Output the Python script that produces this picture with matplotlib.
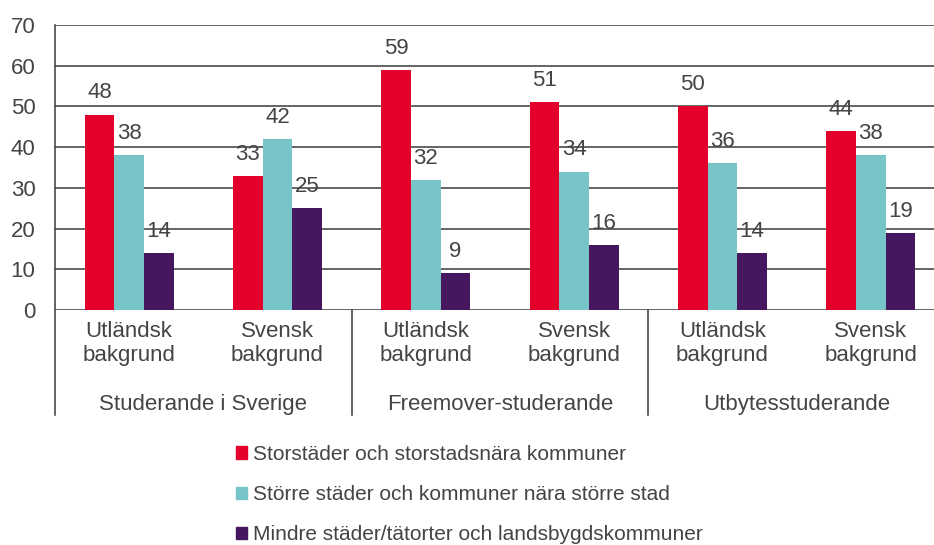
import numpy as np
import matplotlib.pyplot as plt
from matplotlib.patches import Patch

plt.rcParams['font.family'] = ['Liberation Sans', 'DejaVu Sans']

# data
categories = ["Utländsk\nbakgrund", "Svensk\nbakgrund"] * 3
groups = ["Studerande i Sverige", "Freemover-studerande", "Utbytesstuderande"]
series_names = ["Storstäder och storstadsnära kommuner",
                "Större städer och kommuner nära större stad",
                "Mindre städer/tätorter och landsbygdskommuner"]
storstad = [48, 33, 59, 51, 50, 44]
storre = [38, 42, 32, 34, 36, 38]
mindre = [14, 25, 9, 16, 14, 19]

colors = ['#E3002B', '#77C5C9', '#46175E']
txt = '#444444'
linec = '#3a3a3a'
fs = 16

fig = plt.figure(figsize=(9.34, 5.45), dpi=100)
ax = fig.add_axes([55/934, 1-310/545, 890/934, 285/545])

x = np.arange(len(categories))
w = 0.2
series = [storstad, storre, mindre]
for i, vals in enumerate(series):
    bars = ax.bar(x + (i-1)*w, vals, w, color=colors[i], zorder=3)
    for b, v in zip(bars, vals):
        ax.annotate(str(v), (b.get_x()+b.get_width()/2, v), xytext=(0, 8),
                    textcoords='offset points', ha='center', va='bottom',
                    fontsize=fs, color=txt)

ax.set_xlim(-0.5, 5.5)
ax.set_ylim(0, 70)
for s in ax.spines.values():
    s.set_visible(False)
for yv in range(0, 71, 10):
    ax.axhline(yv, color=linec, lw=1.1, zorder=1)
ax.set_yticks(range(0, 71, 10))
ax.tick_params(axis='y', length=0, pad=14, labelsize=fs, labelcolor=txt)
ax.set_xticks([])

tr = ax.get_xaxis_transform()
bot = -(415-310)/285
ax.plot([-0.5, -0.5], [1, bot], color=linec, lw=1.1, clip_on=False, transform=tr)
for xs in [1.5, 3.5]:
    ax.plot([xs, xs], [0, bot], color=linec, lw=1.1, clip_on=False, transform=tr)

for xi, lab in zip(x, categories):
    ax.text(xi, -(321-310)/285, lab, transform=tr, ha='center', va='top',
            fontsize=fs, color=txt, linespacing=1.2)
for gi, g in enumerate(groups):
    ax.text(2*gi+0.5, -(404-310)/285, g, transform=tr, ha='center', va='center',
            fontsize=fs, color=txt)

handles = [Patch(color=c) for c in colors]
fig.legend(handles, series_names, loc='upper left', bbox_to_anchor=(236/934, 1-445/545),
           frameon=False, fontsize=15, labelcolor=txt, handlelength=0.53,
           handleheight=0.53, handletextpad=0.29, labelspacing=1.02, borderpad=0,
           borderaxespad=0)

fig.savefig('out.png', dpi=100)
